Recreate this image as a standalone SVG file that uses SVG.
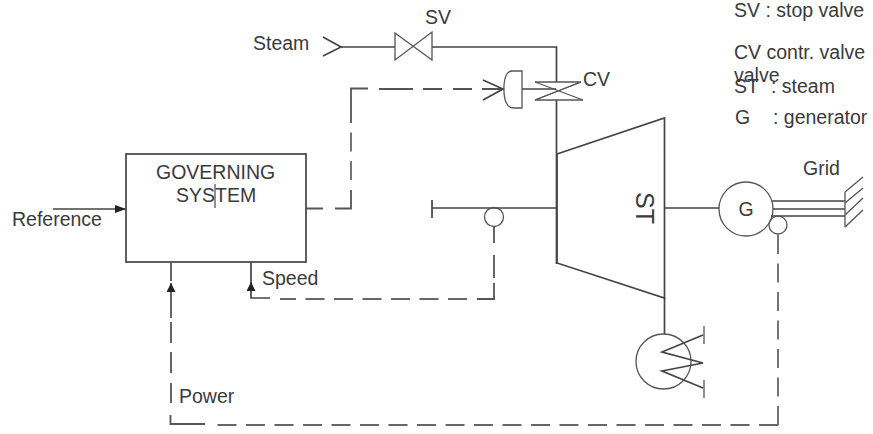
<svg xmlns="http://www.w3.org/2000/svg" width="873" height="434" viewBox="0 0 873 434">
<defs>
<marker id="ah" viewBox="0 0 11 8" refX="11" refY="4" markerWidth="11" markerHeight="8" markerUnits="userSpaceOnUse" orient="auto"><path d="M0 0L11 4L0 8Z" fill="#222"/></marker>
<marker id="av" viewBox="0 0 9 9" refX="9" refY="4.5" markerWidth="9" markerHeight="9" markerUnits="userSpaceOnUse" orient="auto"><path d="M0 0L9 4.5L0 9Z" fill="#222"/></marker>
</defs>
<style>
text{font-family:"Liberation Sans",Arial,sans-serif;font-size:19.5px;fill:#3a3a3a}
.l{fill:none;stroke:#444;stroke-width:1.7}
.t{fill:none;stroke:#555;stroke-width:1.3}
.s{fill:none;stroke:#555;stroke-width:1.8}
.d{fill:none;stroke:#666;stroke-width:1.8;stroke-dasharray:19 9.5}
</style>
<rect width="873" height="434" fill="#fff"/>
<g id="connectors">
<path class="l" d="M341 47H395M432 47H556.500V82M556.500 100V264"/>
<path class="l" d="M522 89H556"/>
<path class="s" d="M306 208.500H323M335 208.500H351V190"/>
<path class="d" d="M351 180V132"/>
<path class="s" d="M351 123V88.500H368M379 89H413M423 89H442M453 89H472M482 89H503"/>
<path class="l" d="M53 209H126" marker-end="url(#ah)"/>
<path class="l" d="M432 208H556M432 200V218"/>
<path class="l" d="M665 208H719"/>
<path class="s" d="M494 227V243M494 255V278M494 283V299H477"/>
<path class="d" d="M467 299H280"/>
<path class="l" d="M270 298H251V282" marker-end="url(#av)"/>
<path class="l" d="M251 282V262"/>
<path class="d" d="M778 425V235"/>
<path class="d" d="M778 425H216"/>
<path class="s" d="M205 424H170.500V415M171 403V383M171 373V352M171 343V322"/>
<path class="s" d="M171 318V283" marker-end="url(#av)"/>
<path class="s" d="M171 263V281"/>
<path class="l" d="M664.500 298V334"/>
</g>
<g id="governing"><rect class="l" x="126" y="154" width="180" height="108"/><text x="156" y="179">GOVERNING</text><text x="176" y="202">SYSTEM</text><path class="t" d="M215 184V208"/></g>
<g id="steam-in"><text x="253" y="50">Steam</text><path class="l" d="M323 37L341 47L323 56"/></g>
<g id="sv"><path class="t" d="M395 33V60L432 32V60Z"/><text x="425" y="24">SV</text></g>
<g id="cv"><path class="t" d="M535 82H581L535 100H583"/><path class="t" d="M581 82L535 100M535 82L583 100"/><text x="583" y="86">CV</text><path class="t" d="M522 71H512Q505 71 504 85Q503 108 514 108H522Z"/><path class="l" d="M483 80L503 89L483 100"/></g>
<g id="turbine"><path class="l" d="M557 154L664.500 118V298L557 263Z"/><text text-anchor="middle" transform="translate(636 208) rotate(90)" style="font-size:25px">ST</text></g>
<g id="generator"><circle class="t" cx="746" cy="209" r="27"/><text x="746" y="216" text-anchor="middle">G</text><path class="l" d="M772 201H845M773 209H845M771 216H845"/><circle class="t" cx="778" cy="225" r="9" fill="#fff"/></g>
<g id="grid"><text x="803" y="175">Grid</text><path class="t" d="M845 192V227M845 192L863 177M845 203L863 188M845 215L863 198M845 227L863 210"/></g>
<g id="speed-sensor"><circle class="t" cx="494" cy="217" r="9.500" fill="#fff"/><text x="262" y="285">Speed</text></g>
<g id="condenser"><circle class="t" cx="663.500" cy="361.500" r="27.500"/><path class="l" d="M703 335L662 352L703 363L662 371L703 388"/><path class="t" d="M704 326V344M704 380V398"/></g>
<g id="labels"><text x="12" y="226">Reference</text><text x="179" y="403">Power</text><text x="734" y="17">SV : stop valve</text><text x="734" y="59">CV contr. valve</text><text x="734" y="82">valve</text><text x="734" y="93">ST</text><text x="771" y="93">: steam</text><text x="735" y="124">G</text><text x="773" y="124">: generator</text></g>
</svg>
